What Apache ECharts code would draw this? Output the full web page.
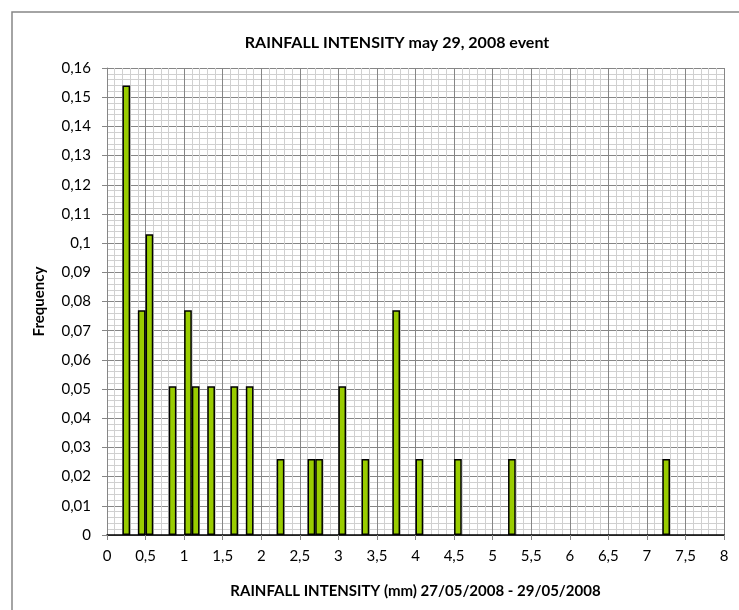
<!DOCTYPE html>
<html>
<head>
<meta charset="utf-8">
<script src="https://cdn.jsdelivr.net/npm/echarts@6/dist/echarts.min.js"></script>
<style>html,body{margin:0;padding:0;background:#fff}#c{width:739px;height:610px}</style>
</head>
<body>
<div id="c"></div>
<script>
// Data
const binCenters = [0.25, 0.45, 0.55, 0.85, 1.05, 1.15, 1.35, 1.65, 1.85, 2.25, 2.65, 2.75, 3.05, 3.35, 3.75, 4.05, 4.55, 5.25, 7.25];
const frequencies = [0.154, 0.077, 0.103, 0.051, 0.077, 0.051, 0.051, 0.051, 0.051, 0.026, 0.026, 0.026, 0.051, 0.026, 0.077, 0.026, 0.026, 0.026, 0.026];
const titleText = 'RAINFALL INTENSITY may 29, 2008 event';
const xTitle = 'RAINFALL INTENSITY (mm) 27/05/2008 - 29/05/2008';
const yTitle = 'Frequency';

const gridLeft = 107, gridRight = 15, gridTop = 68, gridBottom = 75;
const W = 739;
const plotW = W - gridLeft - gridRight;
const binWidth = 0.1, xMax = 8;

const chart = echarts.init(document.getElementById('c'), null, {renderer: 'canvas'});
const font = 'Lato, "Open Sans", sans-serif';
const comma = v => String(+v.toFixed(2)).replace('.', ',');

chart.setOption({
  animation: false,
  backgroundColor: '#fff',
  textStyle: {fontFamily: font},
  title: {
    text: titleText, left: 392, top: 30, textAlign: 'center',
    textStyle: {fontFamily: font, fontSize: 16, fontWeight: 'bold', color: '#000'}
  },
  graphic: [{
    type: 'rect', z: -10, silent: true,
    shape: {x: 12, y: 12, width: 800, height: 700},
    style: {fill: null, stroke: '#868686', lineWidth: 1.5}
  }],
  grid: {left: gridLeft, right: gridRight, top: gridTop, bottom: gridBottom},
  xAxis: {
    type: 'value', min: 0, max: xMax, interval: 0.5,
    name: xTitle, nameLocation: 'middle', nameGap: 49,
    nameTextStyle: {fontFamily: font, fontSize: 15, fontWeight: 'bold', color: '#000'},
    axisLine: {show: true, onZero: false, lineStyle: {color: '#000', width: 1.5}},
    axisTick: {show: true, length: 5, lineStyle: {color: '#868686'}},
    axisLabel: {formatter: comma, fontSize: 15, color: '#000', margin: 14},
    splitLine: {show: true, lineStyle: {color: '#868686', width: 1}},
    minorTick: {show: false, splitNumber: 5},
    minorSplitLine: {show: true, lineStyle: {color: '#d0d0d0', width: 1}}
  },
  yAxis: {
    type: 'value', min: 0, max: 0.16, interval: 0.01,
    name: yTitle, nameLocation: 'middle', nameGap: 60, nameRotate: 90,
    nameTextStyle: {fontFamily: font, fontSize: 15, fontWeight: 'bold', color: '#000'},
    axisLine: {show: true, lineStyle: {color: '#868686', width: 1}},
    axisTick: {show: true, length: 5, lineStyle: {color: '#868686'}},
    axisLabel: {formatter: comma, fontSize: 15, color: '#000', margin: 16},
    splitLine: {show: true, lineStyle: {color: '#868686', width: 1}},
    minorTick: {show: false, splitNumber: 5},
    minorSplitLine: {show: true, lineStyle: {color: '#d0d0d0', width: 1}}
  },
  series: [{
    type: 'bar',
    data: binCenters.map((x, i) => [x, frequencies[i]]),
    barWidth: plotW / (xMax / binWidth),
    itemStyle: {color: '#99cc00', borderColor: '#000', borderWidth: 1.5},
    z: 5
  }]
});
</script>
</body>
</html>
